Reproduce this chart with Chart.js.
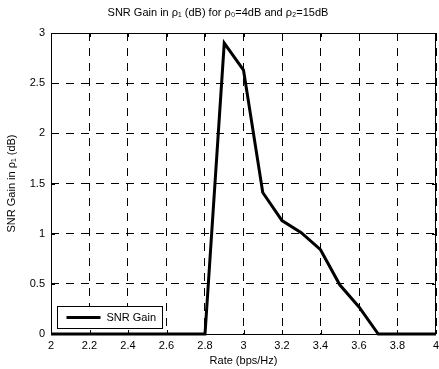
<!DOCTYPE html>
<html>
<head>
<meta charset="utf-8">
<script src="https://cdn.jsdelivr.net/npm/chart.js@4/dist/chart.umd.min.js"></script>
<style>
  html, body { margin: 0; padding: 0; background: #fff; }
  #chart { display: block; }
</style>
</head>
<body>
<canvas id="chart" width="439" height="369"></canvas>
<script>
  // values
  const rates = [2.0, 2.1, 2.2, 2.3, 2.4, 2.5, 2.6, 2.7, 2.8, 2.9, 3.0, 3.1, 3.2, 3.3, 3.4, 3.5, 3.6, 3.7, 3.8, 3.9, 4.0];
  const snrGain = [0, 0, 0, 0, 0, 0, 0, 0, 0, 2.9, 2.63, 1.41, 1.13, 1.01, 0.84, 0.49, 0.27, 0, 0, 0, 0];
  const xTicks = [2, 2.2, 2.4, 2.6, 2.8, 3, 3.2, 3.4, 3.6, 3.8, 4];
  const yTicks = [0, 0.5, 1, 1.5, 2, 2.5, 3];

  const fontFamily = "\"Liberation Sans\", Arial, Helvetica, sans-serif";
  const tickFont = { family: fontFamily, size: 11 };
  const fmt = v => String(Number(Number(v).toFixed(2)));

  // MATLAB style box, inward ticks and legend inside the axes
  const matlabAxes = {
    id: "matlabAxes",
    afterDraw(chart) {
      const { ctx, chartArea: a, scales } = chart;
      ctx.save();
      ctx.strokeStyle = "#000";
      ctx.lineWidth = 1;
      ctx.setLineDash([]);
      ctx.beginPath();
      xTicks.forEach(v => {
        const px = Math.round(scales.x.getPixelForValue(v)) + 0.5;
        ctx.moveTo(px, a.bottom); ctx.lineTo(px, a.bottom - 4);
        ctx.moveTo(px, a.top); ctx.lineTo(px, a.top + 4);
      });
      yTicks.forEach(v => {
        const py = Math.round(scales.y.getPixelForValue(v)) + 0.5;
        ctx.moveTo(a.left, py); ctx.lineTo(a.left + 4, py);
        ctx.moveTo(a.right, py); ctx.lineTo(a.right - 4, py);
      });
      ctx.stroke();
      ctx.strokeRect(Math.round(a.left) + 0.5, Math.round(a.top) + 0.5,
        Math.round(a.right - a.left) - 1, Math.round(a.bottom - a.top));

      // legend
      const bx = Math.round(a.left) + 6.5;
      const by = Math.round(a.bottom) - 27.5;
      ctx.fillStyle = "#fff";
      ctx.fillRect(bx, by, 105, 22);
      ctx.strokeRect(bx, by, 105, 22);
      ctx.lineWidth = 3;
      ctx.beginPath();
      ctx.moveTo(bx + 9, by + 11);
      ctx.lineTo(bx + 43, by + 11);
      ctx.stroke();
      ctx.fillStyle = "#000";
      ctx.font = `11px ${fontFamily}`;
      ctx.textBaseline = "middle";
      ctx.textAlign = "left";
      ctx.fillText(chart.data.datasets[0].label, bx + 49, by + 11.5);
      ctx.restore();
    }
  };

  new Chart(document.getElementById("chart"), {
    type: "line",
    data: {
      datasets: [{
        label: "SNR Gain",
        data: rates.map((r, i) => ({ x: r, y: snrGain[i] })),
        borderColor: "#000",
        borderWidth: 3,
        pointRadius: 0,
        tension: 0,
        fill: false,
        clip: false
      }]
    },
    options: {
      responsive: false,
      animation: false,
      devicePixelRatio: 1,
      layout: { padding: { left: 0, right: 3, top: 0, bottom: 0 } },
      plugins: {
        legend: { display: false },
        tooltip: { enabled: false },
        title: {
          display: true,
          text: "SNR Gain in ρ₁ (dB) for ρ₀=4dB and ρ₂=15dB",
          color: "#000",
          font: { family: fontFamily, size: 11, weight: "normal" },
          padding: { top: 6, bottom: 13.8 }
        }
      },
      scales: {
        x: {
          type: "linear",
          min: 2,
          max: 4,
          afterBuildTicks: s => { s.ticks = xTicks.map(v => ({ value: v })); },
          afterFit: s => { s.height = 35; s.paddingLeft = 0; s.paddingRight = 0; },
          ticks: { color: "#000", font: tickFont, padding: 5, maxRotation: 0, autoSkip: false, callback: fmt },
          grid: { color: "#000", lineWidth: 1, drawTicks: false },
          border: { display: false, dash: [8, 7] },
          title: { display: true, text: "Rate (bps/Hz)", color: "#000", font: tickFont, padding: { top: 0, bottom: 1 } }
        },
        y: {
          min: 0,
          max: 3,
          afterBuildTicks: s => { s.ticks = yTicks.map(v => ({ value: v })); },
          afterFit: s => { s.width = 51; s.paddingTop = 0; s.paddingBottom = 0; },
          ticks: { color: "#000", font: tickFont, padding: 6, autoSkip: false, callback: fmt },
          grid: { color: "#000", lineWidth: 1, drawTicks: false },
          border: { display: false, dash: [8, 7] },
          title: { display: true, text: "SNR Gain in ρ₁ (dB)", color: "#000", font: tickFont, padding: { top: 5, bottom: 0 } }
        }
      }
    },
    plugins: [matlabAxes]
  });
</script>
</body>
</html>
